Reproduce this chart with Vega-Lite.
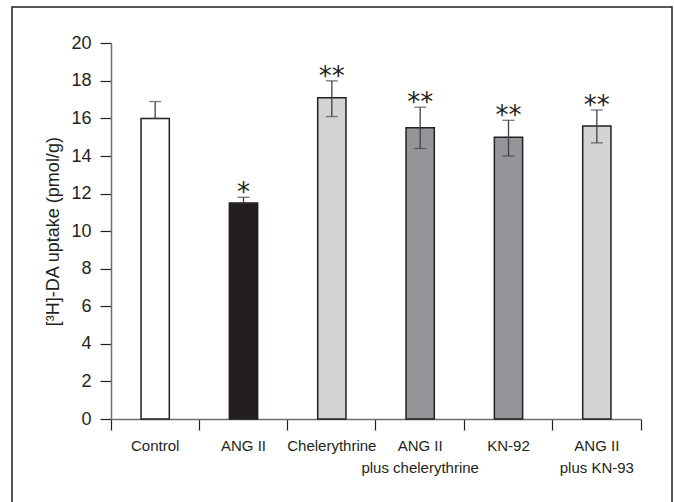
{
  "$schema": "https://vega.github.io/schema/vega-lite/v6.json",
  "width": 660,
  "height": 500,
  "autosize": "none",
  "padding": {"left": 12, "top": 7, "right": 2, "bottom": 0},
  "background": "white",
  "config": {"view": {"stroke": "#231f20", "strokeWidth": 1.5}, "font": "Liberation Sans"},
  "data": {"values": [
    {"group": "Control", "value": 16.0, "lo": 16.0, "hi": 16.9, "star": ""},
    {"group": "ANG II", "value": 11.5, "lo": 11.5, "hi": 11.8, "star": "*"},
    {"group": "Chelerythrine", "value": 17.1, "lo": 16.1, "hi": 18.0, "star": "**"},
    {"group": "ANG II plus chelerythrine", "value": 15.5, "lo": 14.4, "hi": 16.6, "star": "**"},
    {"group": "KN-92", "value": 15.0, "lo": 14.0, "hi": 15.9, "star": "**"},
    {"group": "ANG II plus KN-93", "value": 15.6, "lo": 14.7, "hi": 16.45, "star": "**"}
  ]},
  "encoding": {
    "x": {
      "field": "group", "type": "nominal", "sort": null,
      "scale": {"range": [99, 629], "paddingInner": 0, "paddingOuter": 0},
      "axis": {
        "title": null, "orient": "bottom", "offset": -88, "labelAngle": 0,
        "bandPosition": 1, "tickExtra": true,
        "domainColor": "#6d6e71", "domainWidth": 1.5,
        "tickColor": "#231f20", "tickWidth": 1.2, "tickSize": 11,
        "labelFont": "Liberation Sans", "labelFontSize": 15, "labelColor": "#231f20",
        "labelPadding": 8, "labelLineHeight": 22,
        "labelExpr": "datum.value == 'ANG II plus chelerythrine' ? ['ANG II', 'plus chelerythrine'] : datum.value == 'ANG II plus KN-93' ? ['ANG II', 'plus KN-93'] : datum.label"
      }
    }
  },
  "layer": [
    {
      "mark": {"type": "bar", "width": {"band": 0.32}, "stroke": "#231f20", "strokeWidth": 1.5},
      "encoding": {
        "y": {
          "field": "value", "type": "quantitative",
          "scale": {"domain": [0, 20], "range": [412, 36.3], "nice": false, "zero": false},
          "axis": {
            "title": "[³H]-DA uptake (pmol/g)", "orient": "left", "offset": -99,
            "values": [0, 2, 4, 6, 8, 10, 12, 14, 16, 18, 20], "grid": false,
            "domainColor": "#6d6e71", "domainWidth": 1.5,
            "tickColor": "#231f20", "tickWidth": 1.2, "tickSize": 11,
            "labelFont": "Liberation Sans", "labelFontSize": 18, "labelColor": "#231f20", "labelPadding": 9,
            "titleFont": "Liberation Sans", "titleFontSize": 18, "titleFontWeight": "normal", "titleColor": "#231f20", "titlePadding": 8
          }
        },
        "color": {
          "field": "group", "type": "nominal", "legend": null,
          "scale": {
            "domain": ["Control", "ANG II", "Chelerythrine", "ANG II plus chelerythrine", "KN-92", "ANG II plus KN-93"],
            "range": ["#ffffff", "#231f20", "#d1d3d4", "#939598", "#939598", "#d1d3d4"]
          }
        }
      }
    },
    {
      "mark": {"type": "rule", "color": "#414042", "strokeWidth": 1.3},
      "encoding": {
        "y": {"field": "lo", "type": "quantitative"},
        "y2": {"field": "hi"}
      }
    },
    {
      "mark": {"type": "tick", "color": "#414042", "size": 12, "thickness": 1.3},
      "encoding": {"y": {"field": "hi", "type": "quantitative"}}
    },
    {
      "mark": {"type": "tick", "color": "#414042", "size": 12, "thickness": 1.3},
      "encoding": {"y": {"field": "lo", "type": "quantitative"}}
    },
    {
      "mark": {"type": "text", "font": "DejaVu Sans", "fontSize": 26, "color": "#231f20", "baseline": "alphabetic", "dy": 4},
      "encoding": {
        "y": {"field": "hi", "type": "quantitative"},
        "text": {"field": "star"}
      }
    }
  ]
}
